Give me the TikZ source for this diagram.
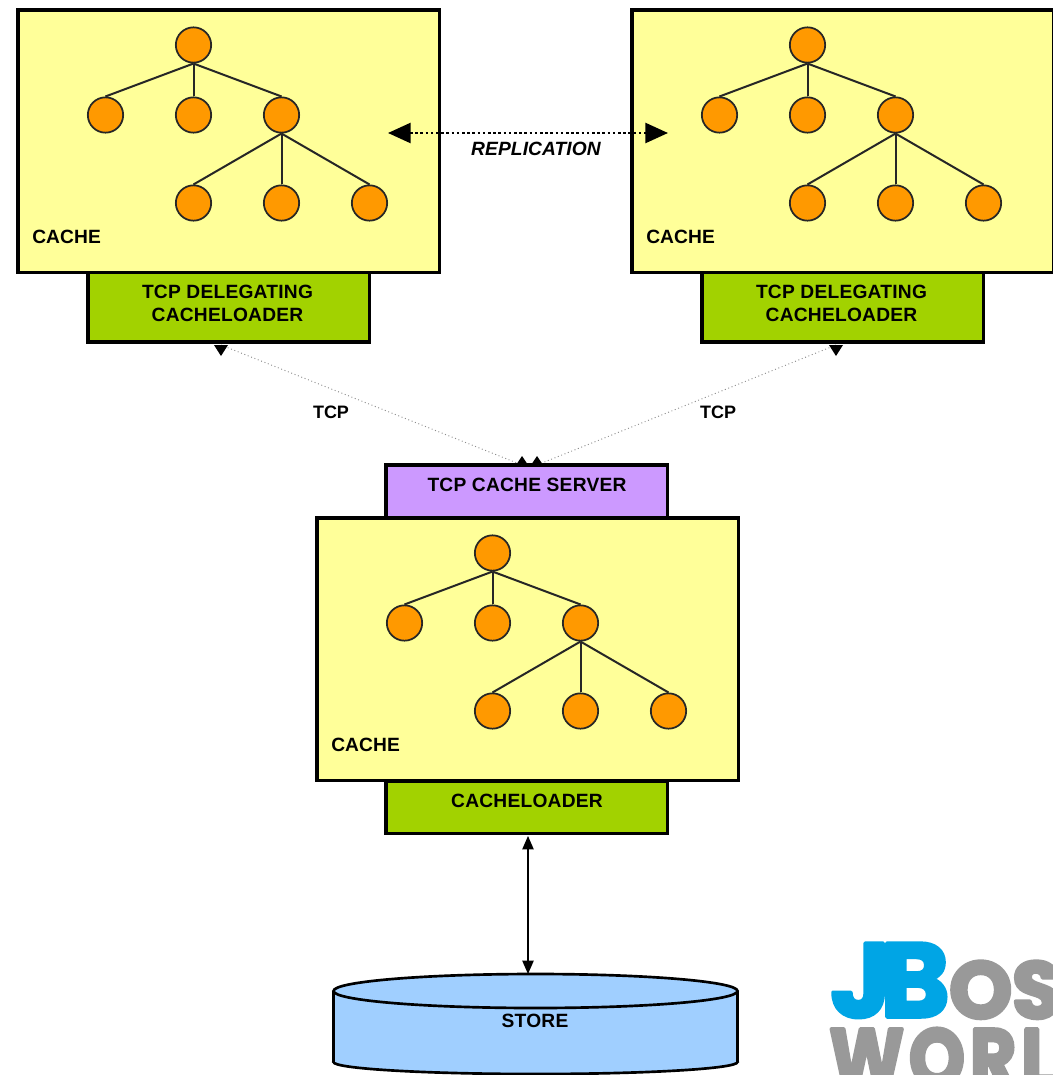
\documentclass[tikz,border=0pt]{standalone}
\usepackage{fontspec}
\setmainfont{Liberation Sans}
\newfontfamily\logofont[Ligatures=NoCommon]{Poppins}
\usetikzlibrary{arrows.meta}
\definecolor{cacheY}{HTML}{FFFF99}
\definecolor{loaderG}{HTML}{A2D200}
\definecolor{serverP}{HTML}{CC99FF}
\definecolor{storeB}{HTML}{A0CFFF}
\definecolor{nodeO}{HTML}{FF9900}
\definecolor{logoB}{HTML}{00A5E5}
\definecolor{logoG}{HTML}{999999}
\newcommand{\heavy}{\special{pdf:code 2 Tr 2.6 w 1 j}}
\tikzset{
  x=0.75pt,y=-0.75pt,
  box/.style={draw=black,line width=2.7pt,inner sep=0pt,outer sep=0pt,anchor=north west},
  cachebox/.style={box,fill=cacheY,minimum width=316pt,minimum height=197pt},
  loaderbox/.style={box,fill=loaderG,minimum width=211pt},
  serverbox/.style={box,fill=serverP,minimum width=211pt,minimum height=39.5pt},
  lbl/.style={inner sep=0pt,font=\fontsize{14.4}{17.25}\selectfont\bfseries,text=black},
  tn/.style={circle,draw=black!85,line width=1.3pt,fill=nodeO,minimum size=26.5pt,inner sep=0pt},
  tedge/.style={draw=black!85,line width=1.5pt},
  tcpline/.style={draw=black!45,line width=0.7pt,dotted},
  tcptip/.style={fill=black},
  reparrow/.style={draw=black,line width=1.9pt,dotted,{Triangle[length=17pt,width=15pt,fill=black]}-{Triangle[length=17pt,width=15pt,fill=black]}},
  storearrow/.style={draw=black,line width=0.9pt,{Triangle[length=10pt,width=8.5pt,fill=black]}-{Triangle[length=10pt,width=8.5pt,fill=black]}},
  logotext/.style={anchor=base west,inner sep=0pt},
}
% #1 prefix, #2 dx, #3 dy
\newcommand{\cachetree}[3]{%
  \node[cachebox] (#1box) at (#2+18,#3+10) {};
  \node[tn] (#1r) at (#2+193.5,#3+45) {};
  \node[tn] (#1a) at (#2+105.5,#3+115) {};
  \node[tn] (#1b) at (#2+193.5,#3+115) {};
  \node[tn] (#1c) at (#2+281.5,#3+115) {};
  \node[tn] (#1d) at (#2+193.5,#3+203) {};
  \node[tn] (#1e) at (#2+281.5,#3+203) {};
  \node[tn] (#1f) at (#2+369.5,#3+203) {};
  \draw[tedge] (#1r.south) -- (#1a.north);
  \draw[tedge] (#1r.south) -- (#1b.north);
  \draw[tedge] (#1r.south) -- (#1c.north);
  \draw[tedge] (#1c.south) -- (#1d.north);
  \draw[tedge] (#1c.south) -- (#1e.north);
  \draw[tedge] (#1c.south) -- (#1f.north);
  \node[lbl,anchor=west] (#1lab) at (#2+32,#3+237) {\addfontfeature{LetterSpace=0.5}CACHE};
}
\begin{document}
\begin{tikzpicture}
\useasboundingbox (0,0) rectangle (1053,1075);
\clip (0,0) rectangle (1053,1075);
\fill[white] (0,0) rectangle (1053,1075);
% loaders and server
\node[loaderbox,minimum height=52.5pt] (gl) at (88,272) {};
\node[loaderbox,minimum height=52.5pt] (gr) at (702,272) {};
\node[lbl,align=center] (gltxt) at (227.5,303.5) {\addfontfeature{LetterSpace=1.2}TCP DELEGATING\\\addfontfeature{LetterSpace=1.2}CACHELOADER};
\node[lbl,align=center] (grtxt) at (841.5,303.5) {\addfontfeature{LetterSpace=1.2}TCP DELEGATING\\\addfontfeature{LetterSpace=1.2}CACHELOADER};
\node[serverbox] (srv) at (386,465) {};
\node[lbl] (srvtxt) at (527,484.5) {\addfontfeature{LetterSpace=1.2}TCP CACHE SERVER};
\node[loaderbox,minimum height=39.5pt] (gb) at (386,781) {};
\node[lbl] (gbtxt) at (527,800.5) {\addfontfeature{LetterSpace=1.2}CACHELOADER};
% caches
\cachetree{l}{0}{0}
\cachetree{m}{614}{0}
\cachetree{s}{299}{508}
% replication
\coordinate (repa) at (388,133);
\coordinate (repb) at (668,133);
\draw[reparrow] (repa) -- (repb);
\node[lbl,font=\fontsize{14.4}{17}\selectfont\bfseries\itshape] (rep) at (536,149) {\addfontfeature{LetterSpace=0.5}REPLICATION};
% tcp
\coordinate (ta) at (221,345);
\coordinate (tb) at (836,345);
\coordinate (tc) at (522,465);
\coordinate (td) at (537,465);
\draw[tcpline] (ta) -- (tc);
\draw[tcpline] (tb) -- (td);
\fill[tcptip] (ta) ++(-7,0) -- ++(14,0) -- ++(-7,11) -- cycle;
\fill[tcptip] (tb) ++(-7,0) -- ++(14,0) -- ++(-7,11) -- cycle;
\fill[tcptip] (tc) ++(-6,0) -- ++(12,0) -- ++(-6,-9) -- cycle;
\fill[tcptip] (td) ++(-6,0) -- ++(12,0) -- ++(-6,-9) -- cycle;
\node[lbl,font=\fontsize{13.5}{16}\selectfont\bfseries] (t1) at (331,412) {TCP};
\node[lbl,font=\fontsize{13.5}{16}\selectfont\bfseries] (t2) at (718,412) {TCP};
% store
\fill[storeB,draw=black,line width=2pt] (535.5,1062) ellipse [x radius=202,y radius=12];
\fill[storeB] (333.5,991) rectangle (737.5,1062);
\draw[black,line width=2pt] (333.5,991) -- (333.5,1062) (737.5,991) -- (737.5,1062);
\fill[storeB,draw=black,line width=2pt] (535.5,991) ellipse [x radius=202,y radius=17];
\node[lbl] (store) at (535,1020.5) {\addfontfeature{LetterSpace=1.2}STORE};
\coordinate (sttop) at (528,974);
\coordinate (gbbot) at (528,836);
\draw[storearrow] (gbbot) -- (sttop);
% logo
\node[logotext,text=logoB,font=\logofont\bfseries\fontsize{79}{79}\selectfont] (j) at (830,1017) {\heavy J};
\node[logotext,text=logoB,font=\logofont\bfseries\fontsize{79}{79}\selectfont] (bb) at (880,1017) {\heavy B};
\node[logotext,text=logoG,font=\logofont\bfseries\fontsize{60}{60}\selectfont] (os) at (949,1018) {\heavy OS};
\node[logotext,text=logoG,font=\logofont\bfseries\fontsize{62}{62}\selectfont] (world) at (829,1087) {\scalebox{0.86}[1]{\addfontfeature{LetterSpace=7}\heavy WORL}};
\end{tikzpicture}
\end{document}
